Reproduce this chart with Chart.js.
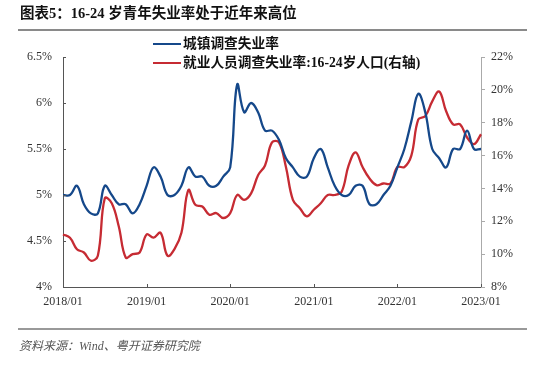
<!DOCTYPE html>
<html><head><meta charset="utf-8">
<script src="https://cdn.jsdelivr.net/npm/chart.js@4/dist/chart.umd.min.js"></script>
<style>
html,body{margin:0;padding:0;background:#fff;}
#wrap{position:relative;width:554px;height:365px;overflow:hidden;}
#cv{position:absolute;left:0;top:0;}
.title{position:absolute;left:20px;top:1px;font:bold 14.5px "Liberation Serif","Noto Sans CJK SC",serif;color:#111;white-space:nowrap;}
.hr{position:absolute;left:18px;width:509px;background:#8a8a8a;}
.src{position:absolute;left:19px;top:336px;font:italic 12px "Liberation Serif","Noto Sans CJK SC",serif;color:#555;white-space:nowrap;}
.lg{position:absolute;left:153px;font:bold 13.7px "Liberation Serif","Noto Sans CJK SC",serif;color:#111;white-space:nowrap;line-height:16px;}
.lg i{display:inline-block;width:28px;height:2.5px;vertical-align:middle;margin-right:2px;position:relative;top:-1px;}
</style></head>
<body><div id="wrap">
<canvas id="cv" width="554" height="365"></canvas>
<div class="title">图表5：16-24 岁青年失业率处于近年来高位</div>
<div class="hr" style="top:29px;height:2px;"></div>
<div class="lg" style="top:36px;"><i style="background:#15488a"></i>城镇调查失业率</div>
<div class="lg" style="top:55px;"><i style="background:#c62b33"></i>就业人员调查失业率:16-24岁人口(右轴)</div>
<div class="hr" style="top:328px;height:1.5px;background:#999"></div>
<div class="src">资料来源：Wind、粤开证券研究院</div>
</div>
<script>
// categories: monthly, 2018/01 .. 2023/01
const months = [];
for (let y = 2018; y <= 2023; y++) {
  for (let m = 1; m <= 12; m++) {
    if (y === 2023 && m > 1) break;
    months.push(y + '/' + String(m).padStart(2, '0'));
  }
}
// 城镇调查失业率 (%)
const urbanRate = [
  5.0,5.0,5.1,4.9,4.8,4.8,5.1,5.0,4.9,4.9,4.8,4.9,
  5.1,5.3,5.2,5.0,5.0,5.1,5.3,5.2,5.2,5.1,5.1,5.2,
  5.3,6.2,5.9,6.0,5.9,5.7,5.7,5.6,5.4,5.3,5.2,5.2,
  5.4,5.5,5.3,5.1,5.0,5.0,5.1,5.1,4.9,4.9,5.0,5.1,
  5.3,5.5,5.8,6.1,5.9,5.5,5.4,5.3,5.5,5.5,5.7,5.5,
  5.5
];
// 就业人员调查失业率:16-24岁人口 (%)
const youthRate = [
  11.2,11.0,10.3,10.1,9.6,9.9,13.4,13.1,11.7,9.8,10.0,10.1,
  11.2,11.0,11.3,9.9,10.3,11.3,13.9,13.0,12.9,12.4,12.5,12.2,
  12.5,13.6,13.3,13.7,14.8,15.4,16.8,16.8,15.3,13.3,12.8,12.3,
  12.7,13.1,13.6,13.6,13.8,15.4,16.2,15.3,14.6,14.2,14.3,14.3,
  15.3,15.3,16.0,18.2,18.4,19.3,19.9,18.7,17.9,17.9,17.1,16.7,
  17.3
];
const xTickLabels = ['2018/01','2019/01','2020/01','2021/01','2022/01','2023/01'];
const leftTicks = [4, 4.5, 5, 5.5, 6, 6.5];
const rightTicks = [8, 10, 12, 14, 16, 18, 20, 22];

const tickFont = {family: '"Liberation Serif", "Times New Roman", serif', size: 12};

const inwardTicks = {
  id: 'inwardTicks',
  afterDraw(chart) {
    const ctx = chart.ctx, x = chart.scales.x, y = chart.scales.y;
    ctx.save();
    ctx.strokeStyle = '#555';
    ctx.lineWidth = 1;
    ctx.beginPath();
    leftTicks.forEach(v => {
      const py = Math.round(y.getPixelForValue(v)) + 0.5;
      ctx.moveTo(x.left, py); ctx.lineTo(x.left + 3, py);
    });
    xTickLabels.forEach(l => {
      const px = Math.round(x.getPixelForValue(months.indexOf(l))) + 0.5;
      ctx.moveTo(px, y.bottom); ctx.lineTo(px, y.bottom - 3);
    });
    ctx.stroke();
    ctx.restore();
  }
};

new Chart(document.getElementById('cv'), {
  type: 'line',
  data: {
    labels: months,
    datasets: [
      {label: '城镇调查失业率', data: urbanRate, yAxisID: 'y', borderColor: '#15488a', borderWidth: 2.3, pointRadius: 0, tension: 0.4, fill: false},
      {label: '就业人员调查失业率:16-24岁人口(右轴)', data: youthRate, yAxisID: 'y2', borderColor: '#c62b33', borderWidth: 2.3, pointRadius: 0, tension: 0.4, fill: false}
    ]
  },
  options: {
    responsive: false,
    animation: false,
    layout: {padding: {left: 0, right: 0, top: 57, bottom: 0}},
    plugins: {legend: {display: false}, tooltip: {enabled: false}, title: {display: false}},
    scales: {
      x: {
        offset: false,
        border: {display: true, color: '#555', width: 1},
        grid: {display: true, drawOnChartArea: false, drawTicks: false},
        ticks: {
          autoSkip: false, maxRotation: 0, padding: 8, color: '#333', font: tickFont,
          callback: function(v, i) { const l = months[i]; return xTickLabels.includes(l) ? l : ''; }
        },
        afterFit: s => { s.height = 78; }
      },
      y: {
        position: 'left', min: 4, max: 6.5,
        border: {display: true, color: '#555', width: 1},
        grid: {display: true, drawOnChartArea: false, drawTicks: false},
        afterBuildTicks: s => { s.ticks = leftTicks.map(v => ({value: v})); },
        ticks: {padding: 11, color: '#333', font: tickFont, callback: v => v + '%'},
        afterFit: s => { s.width = 63; }
      },
      y2: {
        position: 'right', min: 8, max: 22,
        border: {display: true, color: '#aaa', width: 1},
        grid: {display: true, drawOnChartArea: false, drawTicks: true, tickLength: 4, color: '#aaa'},
        afterBuildTicks: s => { s.ticks = rightTicks.map(v => ({value: v})); },
        ticks: {padding: 6, color: '#333', font: tickFont, callback: v => v + '%'},
        afterFit: s => { s.width = 73; }
      }
    }
  },
  plugins: [inwardTicks]
});
</script>
</body></html>
